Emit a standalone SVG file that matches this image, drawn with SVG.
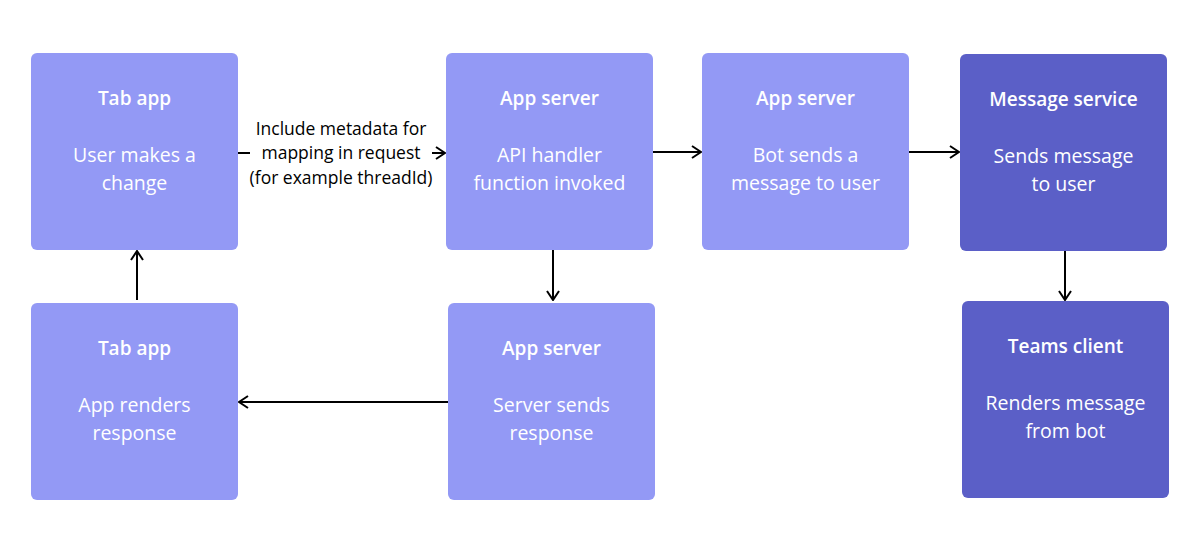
<svg xmlns="http://www.w3.org/2000/svg" width="1200" height="554" viewBox="0 0 1200 554">
  <style>
    .light { fill: #9399f5; }
    .dark { fill: #5b5fc7; }
    .title { font-family: "Open Sans", "Noto Sans", sans-serif; font-size: 19px; font-weight: 600; fill: #ffffff; text-anchor: middle; }
    .body { font-family: "Open Sans", "Noto Sans", sans-serif; font-size: 19.5px; font-weight: 400; fill: #ffffff; text-anchor: middle; }
    .label { font-family: "Open Sans", "Noto Sans", sans-serif; font-size: 17.5px; fill: #000000; text-anchor: middle; }
    .conn { stroke: #000000; stroke-width: 2; fill: none; marker-end: url(#arrow); }
  </style>
  <defs>
    <marker id="arrow" viewBox="0 0 12 14" refX="11" refY="7" markerWidth="12" markerHeight="14" markerUnits="userSpaceOnUse" orient="auto">
      <path d="M2,1 L11,7 L2,13" fill="none" stroke="#000000" stroke-width="2"/>
    </marker>
  </defs>
  <rect width="1200" height="554" fill="#ffffff"/>

  <g id="connectors">
    <line class="conn" x1="238" y1="153" x2="445" y2="153"/>
    <rect x="250" y="114" width="182" height="76" fill="#ffffff"/>
    <text class="label" x="341" y="135">Include metadata for</text>
    <text class="label" x="341" y="159">mapping in request</text>
    <text class="label" x="341" y="184">(for example threadId)</text>
    <line class="conn" x1="653" y1="152" x2="701" y2="152"/>
    <line class="conn" x1="909" y1="152" x2="959" y2="152"/>
    <line class="conn" x1="1065" y1="251" x2="1065" y2="300"/>
    <line class="conn" x1="553" y1="250" x2="553" y2="300"/>
    <line class="conn" x1="448" y1="402" x2="239" y2="402"/>
    <line class="conn" x1="137" y1="300" x2="137" y2="251"/>
  </g>

  <g id="tab-app-change">
    <rect class="light" x="31" y="53" width="207" height="197" rx="6"/>
    <text class="title" x="134.5" y="105">Tab app</text>
    <text class="body" x="134.5" y="162">User makes a</text>
    <text class="body" x="134.5" y="190">change</text>
  </g>

  <g id="app-server-api">
    <rect class="light" x="446" y="53" width="207" height="197" rx="6"/>
    <text class="title" x="549.5" y="105">App server</text>
    <text class="body" x="549.5" y="162">API handler</text>
    <text class="body" x="549.5" y="190">function invoked</text>
  </g>

  <g id="app-server-bot">
    <rect class="light" x="702" y="53" width="207" height="197" rx="6"/>
    <text class="title" x="805.5" y="105">App server</text>
    <text class="body" x="805.5" y="162">Bot sends a</text>
    <text class="body" x="805.5" y="190">message to user</text>
  </g>

  <g id="message-service">
    <rect class="dark" x="960" y="54" width="207" height="197" rx="6"/>
    <text class="title" x="1063.5" y="106">Message service</text>
    <text class="body" x="1063.5" y="163">Sends message</text>
    <text class="body" x="1063.5" y="191">to user</text>
  </g>

  <g id="teams-client">
    <rect class="dark" x="962" y="301" width="207" height="197" rx="6"/>
    <text class="title" x="1065.5" y="353">Teams client</text>
    <text class="body" x="1065.5" y="410">Renders message</text>
    <text class="body" x="1065.5" y="438">from bot</text>
  </g>

  <g id="app-server-response">
    <rect class="light" x="448" y="303" width="207" height="197" rx="6"/>
    <text class="title" x="551.5" y="355">App server</text>
    <text class="body" x="551.5" y="412">Server sends</text>
    <text class="body" x="551.5" y="440">response</text>
  </g>

  <g id="tab-app-render">
    <rect class="light" x="31" y="303" width="207" height="197" rx="6"/>
    <text class="title" x="134.5" y="355">Tab app</text>
    <text class="body" x="134.5" y="412">App renders</text>
    <text class="body" x="134.5" y="440">response</text>
  </g>
</svg>
